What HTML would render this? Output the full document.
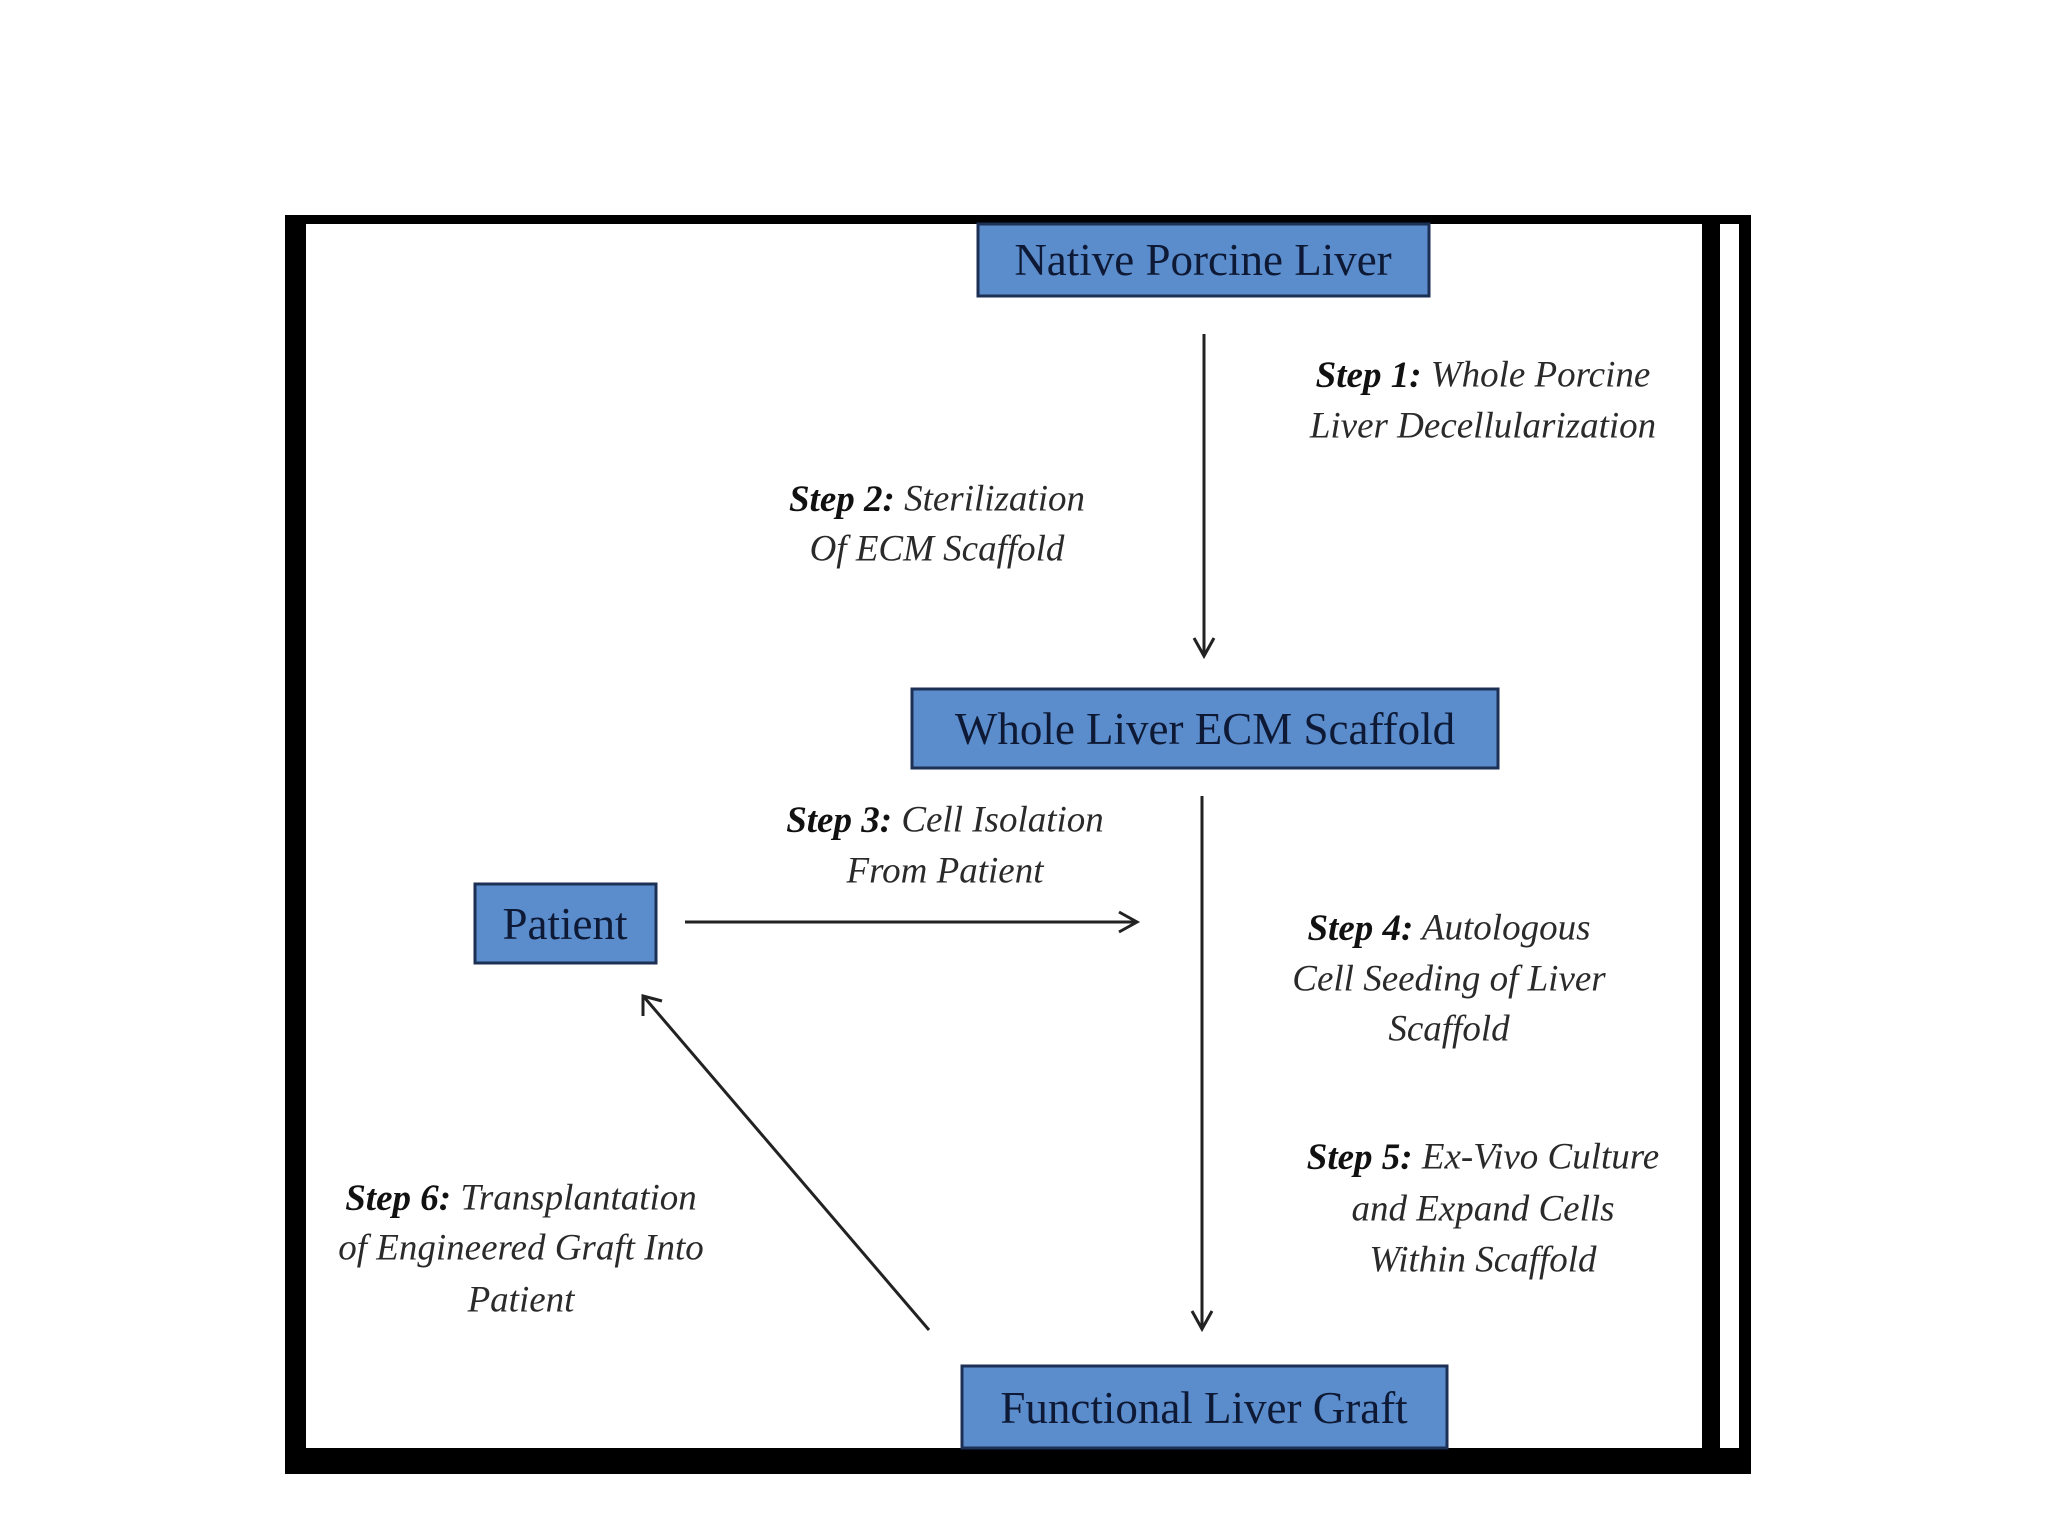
<!DOCTYPE html>
<html><head><meta charset="utf-8"><style>
html,body{margin:0;padding:0;background:#fff;}
svg{display:block}
text{font-family:"Liberation Serif",serif;}
.b{fill:#5b8ccc;stroke:#1c2f55;stroke-width:3}
.bt{font-size:45px;fill:#0e1a35;text-anchor:middle;dominant-baseline:central}
.s{font-size:37px;font-style:italic;fill:#2a2a2a;text-anchor:middle;dominant-baseline:central}
.s tspan.k{font-weight:bold;fill:#111}
</style></head><body>
<svg width="2048" height="1536" viewBox="0 0 2048 1536" xmlns="http://www.w3.org/2000/svg">
<defs><marker id="a" markerWidth="10" markerHeight="10" refX="9" refY="5" orient="auto" markerUnits="userSpaceOnUse"><path d="M0,0 L10,5 L0,10" fill="none" stroke="#111" stroke-width="0"/></marker></defs>
<rect x="0" y="0" width="2048" height="1536" fill="#fff"/>
<!-- frame -->
<rect x="285" y="215" width="1466" height="9" fill="#000"/>
<rect x="285" y="215" width="21" height="1259" fill="#000"/>
<rect x="285" y="1448" width="1466" height="26" fill="#000"/>
<rect x="1702" y="215" width="18" height="1259" fill="#000"/>
<rect x="1739" y="215" width="12" height="1259" fill="#000"/>
<!-- boxes -->
<rect class="b" x="978" y="224" width="451" height="72"/>
<text class="bt" x="1203" y="260">Native Porcine Liver</text>
<rect class="b" x="912" y="689" width="586" height="79"/>
<text class="bt" x="1205" y="729">Whole Liver ECM Scaffold</text>
<rect class="b" x="475" y="884" width="181" height="79"/>
<text class="bt" x="565" y="924">Patient</text>
<rect class="b" x="962" y="1366" width="485" height="82"/>
<text class="bt" x="1204" y="1408">Functional Liver Graft</text>
<!-- arrows -->
<g stroke="#222" stroke-width="3" fill="none">
<line x1="1204" y1="334" x2="1204" y2="655"/>
<path d="M1194,638 L1204,656 L1214,638"/>
<line x1="1202" y1="796" x2="1202" y2="1328"/>
<path d="M1192,1311 L1202,1329 L1212,1311"/>
<line x1="685" y1="922" x2="1136" y2="922"/>
<path d="M1119,912 L1137,922 L1119,932"/>
<line x1="929" y1="1330" x2="644" y2="997"/>
<path d="M643,1016 L643,996 L662,1001"/>
</g>
<!-- labels -->
<text class="s" x="1483" y="375"><tspan class="k">Step 1:</tspan> Whole Porcine</text>
<text class="s" x="1483" y="426">Liver Decellularization</text>
<text class="s" x="937" y="499"><tspan class="k">Step 2:</tspan> Sterilization</text>
<text class="s" x="937" y="549">Of ECM Scaffold</text>
<text class="s" x="945" y="820"><tspan class="k">Step 3:</tspan> Cell Isolation</text>
<text class="s" x="945" y="871">From Patient</text>
<text class="s" x="1449" y="928"><tspan class="k">Step 4:</tspan> Autologous</text>
<text class="s" x="1449" y="979">Cell Seeding of Liver</text>
<text class="s" x="1449" y="1029">Scaffold</text>
<text class="s" x="1483" y="1157"><tspan class="k">Step 5:</tspan> Ex-Vivo Culture</text>
<text class="s" x="1483" y="1209">and Expand Cells</text>
<text class="s" x="1483" y="1260">Within Scaffold</text>
<text class="s" x="521" y="1198"><tspan class="k">Step 6:</tspan> Transplantation</text>
<text class="s" x="521" y="1248">of Engineered Graft Into</text>
<text class="s" x="521" y="1300">Patient</text>
</svg>
</body></html>
